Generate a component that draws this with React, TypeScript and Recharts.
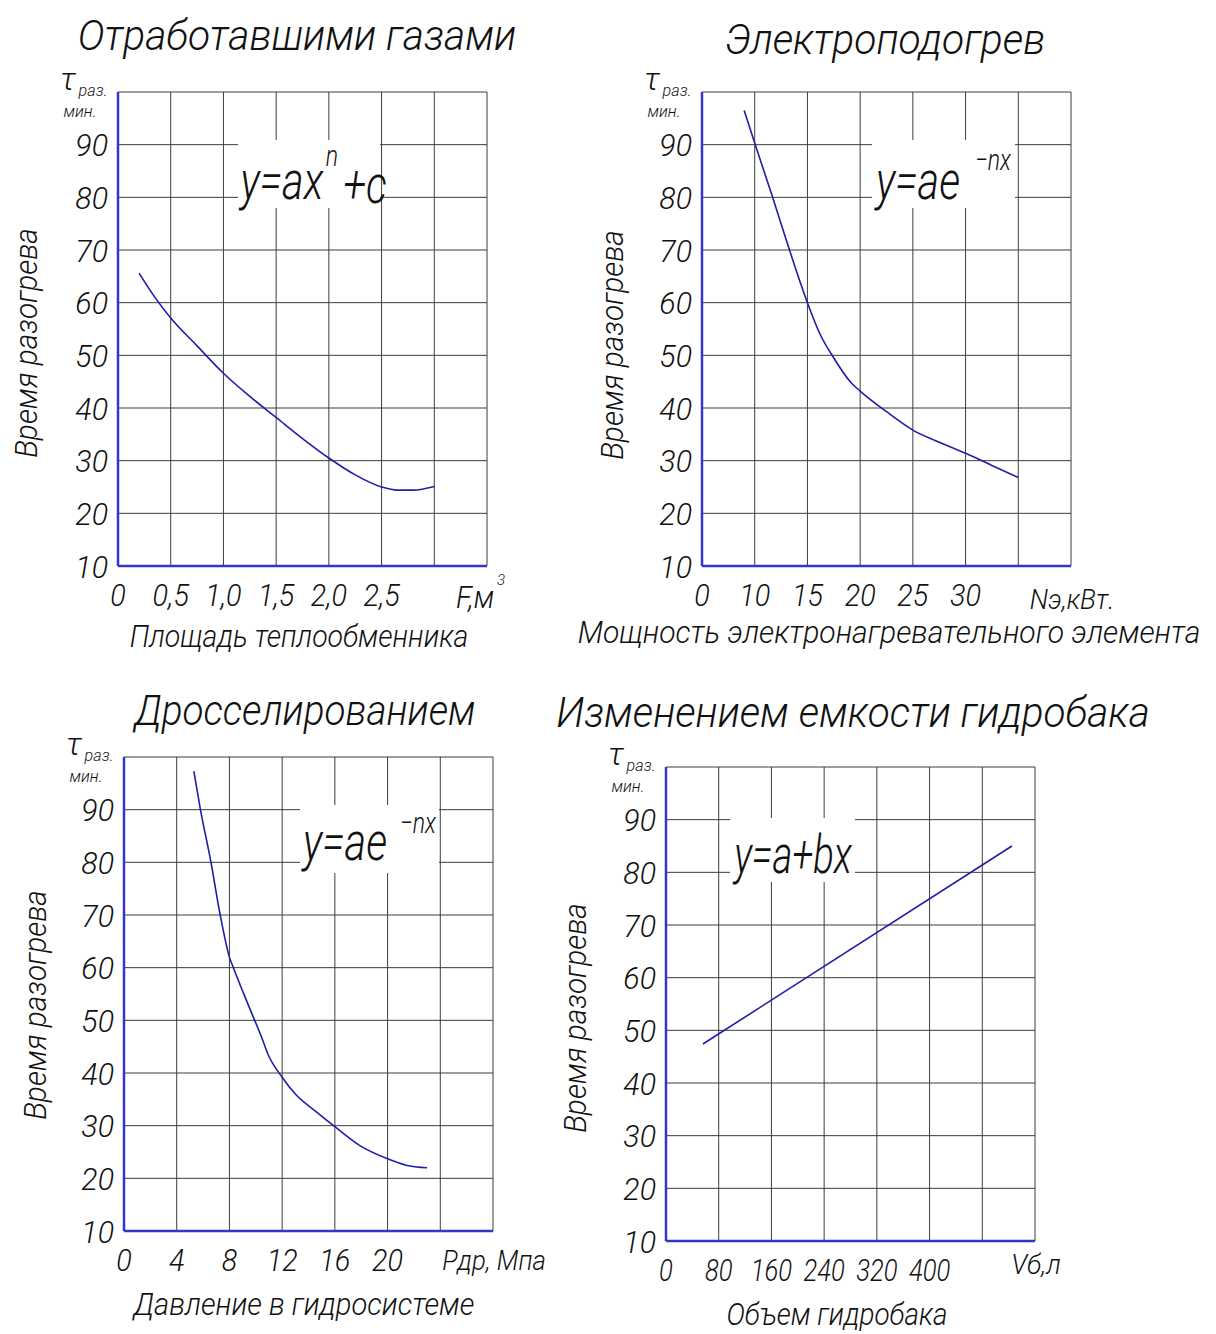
import React from "react"
import { LineChart, Line, XAxis, YAxis, CartesianGrid } from "recharts"

const FONT = 'Roboto, "DejaVu Sans Condensed", sans-serif'
const AXIS = "#3535c8"
const CURVE = "#1e1ea8"
const GRID = "#3c3c3c"

// shared y scale (минуты)
const yTicks = [10, 20, 30, 40, 50, 60, 70, 80, 90]
const yGrid = [10, 20, 30, 40, 50, 60, 70, 80, 90, 100]

// 1. Отработавшими газами, F м³
const gasF = [0.2, 0.35, 0.5, 0.75, 1.0, 1.25, 1.5, 1.75, 2.0, 2.25, 2.5, 2.65, 2.8, 3.0]
const gasT = [65.6, 61.0, 57.1, 51.8, 46.6, 42.2, 38.2, 34.2, 30.5, 27.3, 25.0, 24.4, 24.4, 25.1]
const gasTicks = [0, 0.5, 1, 1.5, 2, 2.5]
const gasLabels = ["0", "0,5", "1,0", "1,5", "2,0", "2,5"]
const gasGrid = [0, 0.5, 1, 1.5, 2, 2.5, 3, 3.5]

// 2. Электроподогрев, N кВт (первая клетка 0..10 сжата, дальше шаг 5)
const elN = [9.0, 10, 11.7, 13.3, 15, 16.2, 17.5, 19.1, 20, 22.5, 25, 27.5, 30, 32.5, 35]
const elT = [96.5, 90.3, 80, 70, 60, 54, 49.5, 44.9, 43.2, 39.3, 35.8, 33.5, 31.4, 29.1, 26.8]
const elTicks = [5, 10, 15, 20, 25, 30]
const elLabels = ["0", "10", "15", "20", "25", "30"]
const elGrid = [5, 10, 15, 20, 25, 30, 35, 40]

// 3. Дросселированием, P МПа
const drP = [5.3, 5.8, 6.6, 7.3, 8.0, 8.3, 9.5, 10.5, 10.9, 12, 13, 14.5, 16, 17.9, 20, 21.4, 23]
const drT = [97.3, 90, 80, 70, 62, 60, 52.5, 46.4, 43.7, 39.2, 36, 32.8, 29.8, 26.2, 23.7, 22.5, 22]
const drTicks = [0, 4, 8, 12, 16, 20]
const drLabels = ["0", "4", "8", "12", "16", "20"]
const drGrid = [0, 4, 8, 12, 16, 20, 24, 28]

// 4. Изменением емкости гидробака, V л
const tankV = [56, 525]
const tankT = [47.4, 85]
const tankTicks = [0, 80, 160, 240, 320, 400]
const tankLabels = ["0", "80", "160", "240", "320", "400"]
const tankGrid = [0, 80, 160, 240, 320, 400, 480, 560]

const PW = 369
const PH = 474
const YW = 110
const XH = 60
const MT = 10
const MR = 10

const zip = (xs: number[], ys: number[]) => xs.map((x, i) => ({ x, y: ys[i] }))

const tickText = {
  fontSize: 32,
  fontStyle: "italic",
  fontFamily: FONT,
  fontWeight: 300,
  fill: "#111",
}

// narrow italic tick label, like the drafting font of the original
const makeTick = (fmt: (v: number) => string, sx: number, vertical: boolean) => (props: any) => {
  const { x, y, payload } = props
  return (
    <text
      transform={`translate(${x},${y}) scale(${sx},1)`}
      textAnchor={vertical ? "end" : "middle"}
      dy={vertical ? "0.36em" : "0.71em"}
      {...tickText}
    >
      {fmt(payload.value)}
    </text>
  )
}

type PanelProps = {
  left: number
  top: number
  xs: number[]
  ys: number[]
  grid: number[]
  ticks: number[]
  labels: string[]
  type: "monotone" | "linear"
  tickSx?: number
}

const Panel = ({ left, top, xs, ys, grid, ticks, labels, type, tickSx = 0.9 }: PanelProps) => {
  const fmt = (v: number) => labels[ticks.indexOf(v)] ?? ""
  return (
    <div style={{ position: "absolute", left: left - YW, top: top - MT }}>
      <LineChart
        width={YW + PW + MR}
        height={MT + PH + XH}
        data={zip(xs, ys)}
        margin={{ top: MT, right: MR, left: 0, bottom: 0 }}
      >
        <CartesianGrid stroke={GRID} strokeWidth={1} horizontalValues={yGrid} verticalValues={grid} />
        <XAxis
          type="number"
          dataKey="x"
          domain={[grid[0], grid[grid.length - 1]]}
          ticks={ticks}
          interval={0}
          height={XH}
          axisLine={{ stroke: AXIS, strokeWidth: 2.5 }}
          tickLine={false}
          tickSize={0}
          tickMargin={17}
          tick={makeTick(fmt, tickSx, false)}
        />
        <YAxis
          type="number"
          domain={[10, 100]}
          ticks={yTicks}
          interval={0}
          width={YW}
          axisLine={{ stroke: AXIS, strokeWidth: 2.5 }}
          tickLine={false}
          tickSize={0}
          tickMargin={10}
          tick={makeTick((v) => String(v), 0.95, true)}
        />
        <Line dataKey="y" type={type} stroke={CURVE} strokeWidth={1.6} dot={false} isAnimationActive={false} />
      </LineChart>
    </div>
  )
}

type TxtProps = {
  x: number
  y: number
  size: number
  children: React.ReactNode
  rotate?: number
  sx?: number
  lh?: number
}

const Txt = ({ x, y, size, children, rotate = 0, sx = 1, lh = 1 }: TxtProps) => (
  <div
    style={{
      position: "absolute",
      left: x,
      top: y,
      transform: `translate(-50%, -50%) rotate(${rotate}deg) scaleX(${sx})`,
      fontFamily: FONT,
      fontStyle: "italic",
      fontWeight: 300,
      fontSize: size,
      lineHeight: lh,
      whiteSpace: "nowrap",
      color: "#111",
    }}
  >
    {children}
  </div>
)

const Tau = ({ left, top }: { left: number; top: number }) => (
  <>
    <Txt x={left - 50} y={top - 13} size={32}>τ</Txt>
    <Txt x={left - 25} y={top - 2} size={17} sx={0.95}>раз.</Txt>
    <Txt x={left - 38} y={top + 19} size={17} sx={0.95}>мин.</Txt>
  </>
)

const Box = ({ x, y, w, h, children }: { x: number; y: number; w: number; h: number; children: React.ReactNode }) => (
  <div style={{ position: "absolute", left: x, top: y, width: w, height: h, background: "#fff" }}>{children}</div>
)

export default function App() {
  return (
    <div style={{ position: "absolute", left: 0, top: 0, width: 1216, height: 1334, background: "#fff", overflow: "hidden" }}>
      {/* 1 */}
      <Txt x={297} y={36} size={42} sx={0.97}>Отработавшими газами</Txt>
      <Panel left={118} top={92} xs={gasF} ys={gasT} grid={gasGrid} ticks={gasTicks} labels={gasLabels} type="monotone" />
      <Tau left={118} top={92} />
      <Txt x={26} y={343} size={32} rotate={-90} sx={0.93}>Время разогрева</Txt>
      <Txt x={475} y={597} size={32} sx={0.9}>F,м</Txt>
      <Txt x={501} y={580} size={15}>3</Txt>
      <Txt x={299} y={636} size={32} sx={0.89}>Площадь теплообменника</Txt>
      <Box x={238} y={140} w={142} h={68}>
        <Txt x={44} y={41} size={54} sx={0.77}>y=ax</Txt>
        <Txt x={94} y={16} size={30} sx={0.77} lh={0.6}>n</Txt>
        <Txt x={127} y={45} size={54} sx={0.77} lh={0.6}>+c</Txt>
      </Box>

      {/* 2 */}
      <Txt x={885} y={40} size={42} sx={0.97}>Электроподогрев</Txt>
      <Panel left={702} top={92} xs={elN} ys={elT} grid={elGrid} ticks={elTicks} labels={elLabels} type="monotone" />
      <Tau left={702} top={92} />
      <Txt x={612} y={345} size={32} rotate={-90} sx={0.93}>Время разогрева</Txt>
      <Txt x={1072} y={600} size={28} sx={0.95}>Nэ,кВт.</Txt>
      <Txt x={889} y={632} size={32} sx={0.94}>Мощность электронагревательного элемента</Txt>
      <Box x={872} y={140} w={143} h={68}>
        <Txt x={46} y={41} size={54} sx={0.77}>y=ae</Txt>
        <Txt x={121} y={20} size={30} sx={0.77}>−nx</Txt>
      </Box>

      {/* 3 */}
      <Txt x={305} y={711} size={42} sx={0.92}>Дросселированием</Txt>
      <Panel left={124} top={757} xs={drP} ys={drT} grid={drGrid} ticks={drTicks} labels={drLabels} type="monotone" />
      <Tau left={124} top={757} />
      <Txt x={35} y={1005} size={32} rotate={-90} sx={0.93}>Время разогрева</Txt>
      <Txt x={494} y={1261} size={28} sx={0.92}>Pдр, Мпа</Txt>
      <Txt x={304} y={1304} size={32} sx={0.91}>Давление в гидросистеме</Txt>
      <Box x={300} y={805} w={139} h={68}>
        <Txt x={45} y={37} size={54} sx={0.77}>y=ae</Txt>
        <Txt x={118} y={18} size={30} sx={0.77}>−nx</Txt>
      </Box>

      {/* 4 */}
      <Txt x={853} y={713} size={42} sx={0.965}>Изменением емкости гидробака</Txt>
      <Panel left={666} top={767} xs={tankV} ys={tankT} grid={tankGrid} ticks={tankTicks} labels={tankLabels} type="linear" tickSx={0.8} />
      <Tau left={666} top={767} />
      <Txt x={575} y={1018} size={32} rotate={-90} sx={0.93}>Время разогрева</Txt>
      <Txt x={1036} y={1265} size={28} sx={0.95}>Vб,л</Txt>
      <Txt x={837} y={1314} size={31} sx={0.9}>Объем гидробака</Txt>
      <Box x={730} y={818} w={125} h={64}>
        <Txt x={63} y={37} size={54} sx={0.71}>y=a+bx</Txt>
      </Box>
    </div>
  )
}
